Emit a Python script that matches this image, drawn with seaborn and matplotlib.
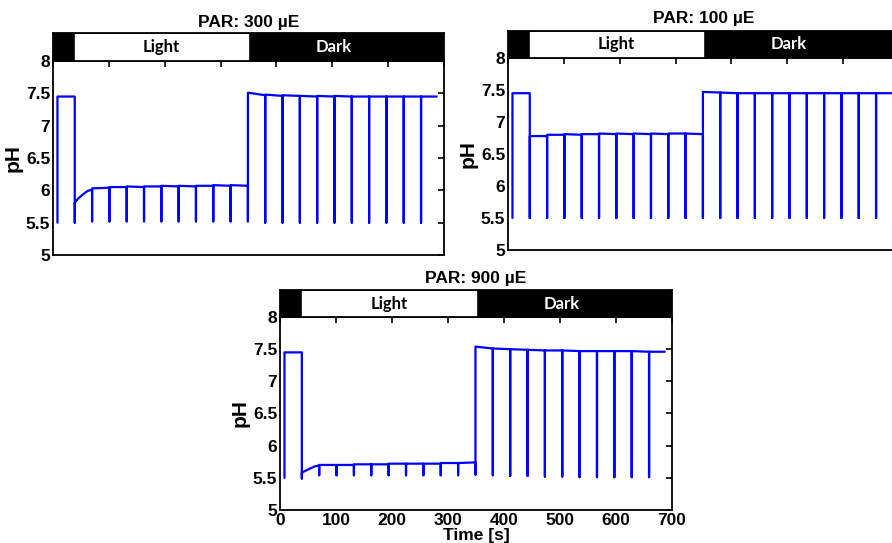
import numpy as np
import pandas as pd
import matplotlib
matplotlib.use("Agg")
import matplotlib.pyplot as plt
import seaborn as sns

# pulse times (s), shared by the three runs
t_pulse = [8, 39, 70, 101, 132, 163, 194, 225, 256, 287, 318, 349,
           380, 411, 442, 473, 504, 535, 566, 597, 628, 659]
t_end = 687
light_on = 39
light_off = 350

# PAR 300
before_300 = [5.50, 7.45, 6.01, 6.04, 6.05, 6.05, 6.06, 6.06, 6.06, 6.07, 6.07, 6.07,
              7.47, 7.46, 7.46, 7.45, 7.45, 7.45, 7.45, 7.45, 7.45, 7.45]
after_300 = [7.45, 5.81, 6.03, 6.05, 6.06, 6.06, 6.07, 6.07, 6.07, 6.08, 6.08, 7.51,
             7.48, 7.47, 7.46, 7.46, 7.46, 7.45, 7.45, 7.45, 7.45, 7.45]
low_300 = [5.50, 5.50, 5.52, 5.52, 5.52, 5.52, 5.52, 5.52, 5.52, 5.52, 5.52, 5.52,
           5.50, 5.50, 5.50, 5.50, 5.50, 5.50, 5.50, 5.50, 5.50, 5.50]
end_300 = 7.45
curve_t_300 = [46, 54, 62]
curve_ph_300 = [5.88, 5.94, 5.99]

# PAR 100
before_100 = [5.50, 7.45, 6.78, 6.80, 6.80, 6.81, 6.81, 6.81, 6.81, 6.81, 6.82, 6.81,
              7.46, 7.45, 7.45, 7.45, 7.45, 7.45, 7.45, 7.45, 7.45, 7.45]
after_100 = [7.45, 6.78, 6.80, 6.81, 6.81, 6.82, 6.82, 6.82, 6.82, 6.82, 6.82, 7.47,
             7.46, 7.45, 7.45, 7.45, 7.45, 7.45, 7.45, 7.45, 7.45, 7.45]
low_100 = [5.50] * 22
end_100 = 7.45
curve_t_100 = []
curve_ph_100 = []

# PAR 900
before_900 = [5.50, 7.45, 5.69, 5.70, 5.70, 5.71, 5.71, 5.72, 5.72, 5.72, 5.73, 5.74,
              7.51, 7.50, 7.49, 7.48, 7.48, 7.47, 7.47, 7.47, 7.47, 7.46]
after_900 = [7.45, 5.58, 5.70, 5.70, 5.71, 5.71, 5.72, 5.72, 5.72, 5.73, 5.73, 7.54,
             7.51, 7.50, 7.49, 7.48, 7.48, 7.47, 7.47, 7.47, 7.47, 7.46]
low_900 = [5.50, 5.49, 5.54, 5.54, 5.54, 5.54, 5.54, 5.54, 5.54, 5.54, 5.54, 5.55,
           5.54, 5.53, 5.53, 5.52, 5.52, 5.51, 5.51, 5.51, 5.51, 5.51]
end_900 = 7.46
curve_t_900 = [48, 55, 63]
curve_ph_900 = [5.62, 5.65, 5.68]


def trace(before, after, low, end, ct, cp):
    ts, ps = [], []
    for i, t in enumerate(t_pulse):
        ts += [t, t, t]
        ps += [before[i], low[i], after[i]]
        if i == 1:
            ts += ct
            ps += cp
    ts.append(t_end)
    ps.append(end)
    return pd.DataFrame({"t": ts, "pH": ps})


sns.set_style("white")
plt.rcParams["font.family"] = ["Liberation Sans", "DejaVu Sans"]
plt.rcParams["font.weight"] = "bold"
plt.rcParams["text.color"] = "black"
plt.rcParams["axes.labelcolor"] = "black"
plt.rcParams["xtick.color"] = "black"
plt.rcParams["ytick.color"] = "black"

fig = plt.figure(figsize=(8.92, 5.43), dpi=100)

panels = [
    ("PAR: 300 \u00b5E", trace(before_300, after_300, low_300, end_300, curve_t_300, curve_ph_300),
     [0.0594, 0.5304, 0.4383, 0.3573], 0.0516, 0.958, False),
    ("PAR: 100 \u00b5E", trace(before_100, after_100, low_100, end_100, curve_t_100, curve_ph_100),
     [0.5695, 0.5396, 0.4383, 0.3536], 0.0497, 0.966, False),
    ("PAR: 900 \u00b5E", trace(before_900, after_900, low_900, end_900, curve_t_900, curve_ph_900),
     [0.3139, 0.0608, 0.4395, 0.3554], 0.0497, 0.488, True),
]

for title, df, pos, bar_h, title_y, xlab in panels:
    ax = fig.add_axes(pos)
    sns.lineplot(data=df, x="t", y="pH", sort=False, estimator=None,
                 color="#0000ff", lw=1.6, ax=ax)
    ax.set_xlim(0, 700)
    ax.set_ylim(5, 8)
    ax.set_xticks(np.arange(0, 701, 100))
    ax.set_yticks([5, 5.5, 6, 6.5, 7, 7.5, 8])
    ax.set_yticklabels(["5", "5.5", "6", "6.5", "7", "7.5", "8"])
    ax.tick_params(direction="in", length=4, width=1.2, top=True, right=True,
                   labelsize=12.5, pad=2, colors="black")
    for lab in ax.get_xticklabels() + ax.get_yticklabels():
        lab.set_fontweight("bold")
        lab.set_color("black")
    for s in ax.spines.values():
        s.set_linewidth(1.3)
        s.set_color("black")
    ax.set_ylabel("pH", fontsize=15, fontweight="bold", labelpad=2, color="black")
    if xlab:
        ax.set_xlabel("Time [s]", fontsize=12.5, fontweight="bold", labelpad=0, color="black")
    else:
        ax.set_xlabel("")
        ax.set_xticklabels([])

    # light / dark bar
    bx = fig.add_axes([pos[0], pos[1] + pos[3], pos[2], bar_h])
    bx.set_facecolor("black")
    bx.set_xlim(0, 700)
    bx.set_ylim(0, 1)
    bx.axvspan(light_on, light_off, ymin=0.04, ymax=0.96, color="white")
    bx.text((light_on + light_off) / 2, 0.5, "Light", ha="center", va="center",
            fontsize=12, fontweight="bold", family=["Lato", "DejaVu Sans"], color="black")
    bx.text(503, 0.5, "Dark", ha="center", va="center",
            fontsize=12, fontweight="bold", family=["Lato", "DejaVu Sans"], color="white")
    bx.set_xticks([])
    bx.set_yticks([])
    for s in bx.spines.values():
        s.set_color("black")
        s.set_linewidth(1.3)

    fig.text(pos[0] + pos[2] / 2, title_y, title, ha="center", va="center",
             fontsize=12.5, fontweight="bold", color="black")

fig.savefig("out.png", dpi=100)
